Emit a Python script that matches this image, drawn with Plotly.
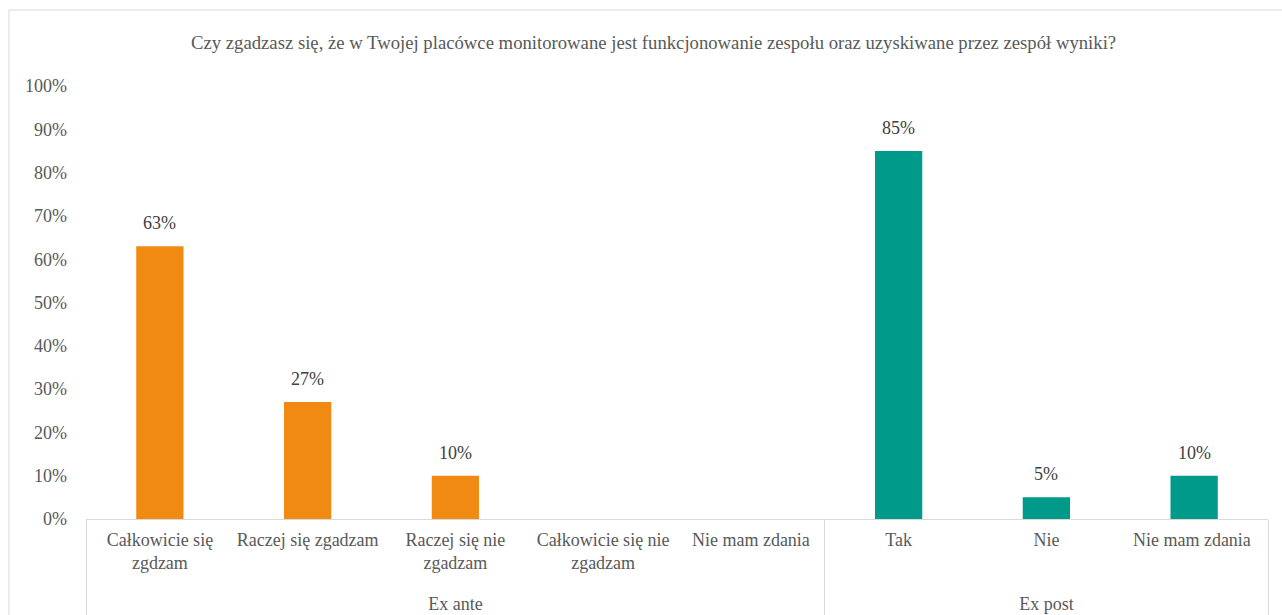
import plotly.graph_objects as go

# Survey answers, per period
groups = ["Ex ante"] * 5 + ["Ex post"] * 3
answers = [
    "Całkowicie się<br>zgdzam",
    "Raczej się zgadzam",
    "Raczej się nie<br>zgadzam",
    "Całkowicie się nie<br>zgadzam",
    "Nie mam zdania",
    "Tak",
    "Nie",
    "Nie mam zdania ",
]
shares = [0.63, 0.27, 0.10, None, None, 0.85, 0.05, 0.10]

title_text = ("Czy zgadzasz się, że w Twojej placówce monitorowane jest "
              "funkcjonowanie zespołu oraz uzyskiwane przez zespół wyniki?")

ORANGE = "#F18A12"
TEAL = "#009A8A"
colors = [ORANGE if g == "Ex ante" else TEAL for g in groups]
# group names sit one line lower, below the wrapped answer labels
group_labels = [" <br>" + g for g in groups]

FONT = "Liberation Serif"
SIZE = 18

fig = go.Figure(
    go.Bar(
        x=[group_labels, answers],
        y=shares,
        marker=dict(color=colors, line=dict(width=0)),
        width=0.32,
        hoverinfo="skip",
    )
)

# value labels floating a little above each bar
value_notes = [
    dict(
        x=i, y=v, xref="x", yref="y", text=f"{round(v * 100)}%",
        showarrow=False, yanchor="bottom", yshift=11,
        font=dict(family=FONT, size=SIZE, color="#404040"),
    )
    for i, v in enumerate(shares) if v is not None
]

fig.update_layout(
    width=1282,
    height=615,
    margin=dict(l=86, r=14, t=86, b=96, autoexpand=False),
    paper_bgcolor="white",
    plot_bgcolor="white",
    showlegend=False,
    font=dict(family=FONT, size=SIZE, color="#595959"),
    annotations=[
        dict(
            text=title_text, xref="paper", yref="paper",
            x=(653 - 86) / 1182, y=(519 - 42) / 433,
            xanchor="center", yanchor="middle", showarrow=False,
            font=dict(family=FONT, size=18.7, color="#595959"),
        )
    ] + value_notes,
    shapes=[
        dict(
            type="rect", xref="paper", yref="paper",
            x0=(9 - 86) / 1182, x1=1.1, y0=-0.3, y1=(519 - 10) / 433,
            line=dict(color="#D9D9D9", width=1), layer="below",
        )
    ],
)

fig.update_xaxes(
    type="multicategory",
    showline=True, linecolor="#D9D9D9", linewidth=1,
    showdividers=True, dividercolor="#D9D9D9", dividerwidth=1,
    ticks="", showgrid=False, tickangle=0, automargin=False,
    ticklabelstandoff=4,
    tickfont=dict(family=FONT, size=SIZE, color="#595959"),
)

fig.update_yaxes(
    range=[0, 1],
    tickvals=[i / 10 for i in range(11)],
    tickformat=".0%",
    showgrid=False, zeroline=False, showline=False, ticks="",
    ticklabelstandoff=18, automargin=False,
    tickfont=dict(family=FONT, size=SIZE, color="#595959"),
)

fig.write_html("out.html")
